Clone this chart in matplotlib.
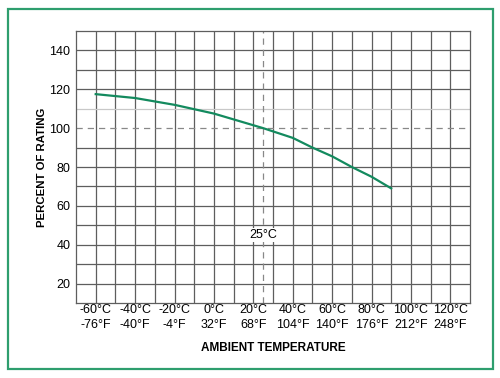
import matplotlib.pyplot as plt
from matplotlib.patches import Rectangle

plt.rcParams['font.family'] = ['Liberation Sans', 'DejaVu Sans']

# derating curve
temp_c = [-60, -40, -20, 0, 20, 25, 40, 50, 60, 70, 80, 90]
rating = [117.5, 115.5, 112, 107.5, 101.5, 100, 95, 90, 85.5, 80, 75, 69]

tick_c = [-60, -40, -20, 0, 20, 40, 60, 80, 100, 120]
tick_f = ["-76°F", "-40°F", "-4°F", "32°F", "68°F", "104°F", "140°F", "176°F", "212°F", "248°F"]
y_ticks = [20, 40, 60, 80, 100, 120, 140]

green = "#138a5e"

fig = plt.figure(figsize=(5, 3.78), dpi=100)
ax = fig.add_axes([76/500, 1 - 303/378, 394/500, 272/378])

# outer green frame
fig.patches.append(Rectangle((8/500, 1 - 369/378), 485/500, 360/378, transform=fig.transFigure,
                             fill=False, edgecolor="#2e9e6e", linewidth=1.6))

ax.set_xlim(-70, 130)
ax.set_ylim(10, 150)

# grid every 10 units
for x in range(-60, 130, 10):
    ax.axvline(x, color="#5e5e5e", linewidth=0.9, zorder=1)
for y in range(20, 150, 10):
    if y == 100:
        continue
    c = "#c8c8c8" if y == 110 else "#5e5e5e"
    ax.axhline(y, color=c, linewidth=0.9, zorder=1)

ax.axhline(100, color="#888888", linewidth=0.9, linestyle=(0, (5, 4)), zorder=2)
ax.axvline(25, color="#888888", linewidth=0.9, linestyle=(0, (5, 4)), zorder=2)

ax.plot(temp_c, rating, color=green, linewidth=1.6, zorder=3)

ax.text(25, 45, "25°C", ha="center", va="center", fontsize=9,
        bbox=dict(facecolor="white", edgecolor="none", pad=0.5), zorder=4)

ax.set_xticks(tick_c)
ax.set_xticklabels([f"{c}°C\n{f}" for c, f in zip(tick_c, tick_f)], fontsize=9, linespacing=1.3)
ax.set_yticks(y_ticks)
ax.set_yticklabels([str(v) for v in y_ticks], fontsize=9)
ax.tick_params(axis="x", length=0, pad=1)
ax.tick_params(axis="y", length=0, pad=4)

for s in ax.spines.values():
    s.set_color("#5e5e5e")
    s.set_linewidth(0.9)

ax.set_ylabel("PERCENT OF RATING", fontsize=8.2, fontweight="bold", labelpad=2)
ax.set_xlabel("AMBIENT TEMPERATURE", fontsize=8.5, fontweight="bold", labelpad=8)

fig.savefig("out.png", dpi=100)
